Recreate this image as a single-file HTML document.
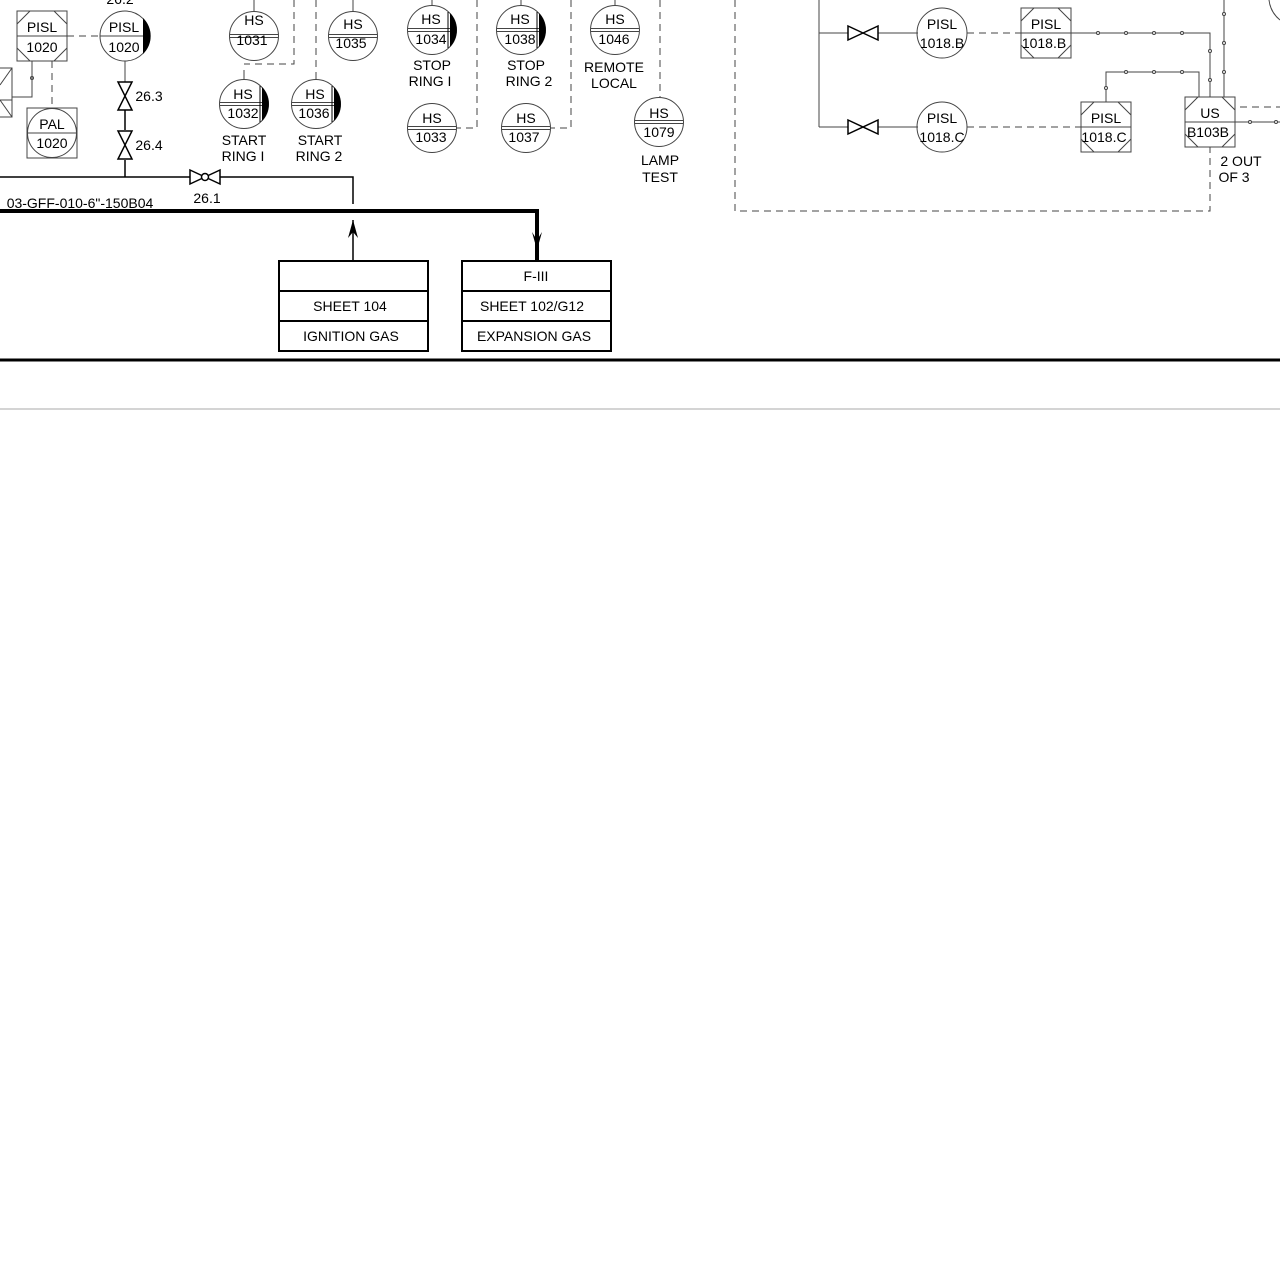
<!DOCTYPE html>
<html><head><meta charset="utf-8"><style>
html,body{margin:0;padding:0;background:#fff;}
svg{display:block;}
text{font-family:"Liberation Sans",sans-serif;font-size:14px;fill:#000;text-anchor:middle;}
.t{stroke:#444;stroke-width:1;fill:none;}
.k{stroke:#000;stroke-width:1.5;fill:none;}
.d{stroke:#444;stroke-width:1;fill:none;stroke-dasharray:7,5;}
</style></head><body>
<svg width="1280" height="1280" viewBox="0 0 1280 1280" xmlns="http://www.w3.org/2000/svg">
<rect width="1280" height="1280" fill="#fff"/>
<defs>
<g id="box"><rect x="-25" y="-25" width="50" height="50" class="t"/><line x1="-25" y1="0" x2="25" y2="0" class="t"/>
<path d="M-25,-12 L-12,-25 M12,-25 L25,-12 M-25,12 L-12,25 M12,25 L25,12" class="t"/></g>
<g id="hs"><circle r="24.5" class="t"/><line x1="-24" y1="-1.5" x2="24" y2="-1.5" class="t"/><line x1="-24" y1="1.5" x2="24" y2="1.5" class="t"/></g>
<g id="sh"><path d="M18,-17 A24.5,24.5 0 0 1 18,17 Z" fill="#000"/><line x1="16" y1="-18" x2="16" y2="18" stroke="#000"/></g>
</defs>

<path d="M0,68 L12,68 L12,117 L0,117 M0,100 L12,117 M0,85 L12,68" class="t"/>
<line x1="0" y1="100" x2="12" y2="100" class="t"/>
<use href="#box" x="42" y="36"/>
<text x="42" y="32">PISL</text><text x="42" y="52">1020</text>
<path d="M32,61 L32,97 L12,97" class="t"/><circle cx="32" cy="78" r="1.5" class="t"/>
<line x1="52" y1="61" x2="52" y2="108" class="d"/>
<line x1="67" y1="36" x2="100" y2="36" class="d"/>
<rect x="27" y="108" width="50" height="50" class="t"/><circle cx="52" cy="133" r="24.5" class="t"/><line x1="28" y1="133" x2="76" y2="133" class="t"/>
<text x="52" y="129">PAL</text><text x="52" y="148">1020</text>
<circle cx="125" cy="36" r="25" class="t"/><line x1="100" y1="36" x2="150" y2="36" class="t"/>
<path d="M143,18 A25,25 0 0 1 143,54 Z" fill="#000"/>
<text x="124" y="32">PISL</text><text x="124" y="52">1020</text>
<text x="120" y="4">26.2</text>
<line x1="125" y1="61" x2="125" y2="82" class="t"/>
<line x1="125" y1="110" x2="125" y2="130" class="k"/>
<line x1="125" y1="160" x2="125" y2="177" class="k"/>
<path d="M118,82 L132,82 L118,110 L132,110 Z" class="k"/>
<path d="M118,131 L132,131 L118,159 L132,159 Z" class="k"/>
<text x="149" y="101">26.3</text><text x="149" y="150">26.4</text>
<path d="M0,177 L190,177 M220,177 L353,177 L353,204" class="k"/>
<path d="M190,170 L190,184 L220,170 L220,184 Z" class="k"/><circle cx="205" cy="177" r="3.5" fill="#fff" stroke="#000" stroke-width="1.5"/>
<text x="207" y="203">26.1</text>
<text x="80" y="208">03-GFF-010-6"-150B04</text>
<path d="M0,211 L537,211 L537,261" stroke="#000" stroke-width="4" fill="none"/>
<path d="M532,232 L537,250 L542,232 L537,240 Z" fill="#000"/>
<line x1="353" y1="220" x2="353" y2="261" class="k"/>
<path d="M348,238 L353,220 L358,238 L353,232 Z" fill="#000"/>
<g stroke="#000" stroke-width="2" fill="none">
<rect x="279" y="261" width="149" height="90"/><line x1="279" y1="291" x2="428" y2="291"/><line x1="279" y1="321" x2="428" y2="321"/>
<rect x="462" y="261" width="149" height="90"/><line x1="462" y1="291" x2="611" y2="291"/><line x1="462" y1="321" x2="611" y2="321"/>
</g>
<text x="350" y="311">SHEET 104</text><text x="351" y="341">IGNITION GAS</text>
<text x="536" y="281">F-III</text><text x="532" y="311">SHEET 102/G12</text><text x="534" y="341">EXPANSION GAS</text>
<line x1="0" y1="360" x2="1280" y2="360" stroke="#000" stroke-width="3"/>
<line x1="0" y1="409" x2="1280" y2="409" stroke="#aaa" stroke-width="1"/>

<line x1="254" y1="0" x2="254" y2="12" class="t"/>
<path d="M294,0 L294,64 L244,64" class="d"/><line x1="244" y1="70" x2="244" y2="80" class="t"/>
<line x1="316" y1="0" x2="316" y2="80" class="d"/>
<line x1="353" y1="0" x2="353" y2="12" class="t"/>
<g transform="translate(254,36)"><use href="#hs"/></g><text x="254" y="25">HS</text><text x="252" y="45">1031</text>
<g transform="translate(353,36)"><use href="#hs"/></g><text x="353" y="29">HS</text><text x="351" y="48">1035</text>
<g transform="translate(244,104)"><use href="#hs"/><use href="#sh"/></g><text x="243" y="99">HS</text><text x="243" y="118">1032</text>
<g transform="translate(316,104)"><use href="#hs"/><use href="#sh"/></g><text x="315" y="99">HS</text><text x="314" y="118">1036</text>
<text x="244" y="145">START</text><text x="243" y="161">RING I</text>
<text x="320" y="145">START</text><text x="319" y="161">RING 2</text>

<line x1="432" y1="0" x2="432" y2="6" class="t"/>
<line x1="521" y1="0" x2="521" y2="6" class="t"/>
<line x1="615" y1="0" x2="615" y2="6" class="t"/>
<path d="M477,0 L477,128 L456,128" class="d"/>
<path d="M571,0 L571,128 L550,128" class="d"/>
<line x1="660" y1="0" x2="660" y2="97" class="d"/>
<g transform="translate(432,30)"><use href="#hs"/><use href="#sh"/></g><text x="431" y="24">HS</text><text x="431" y="44">1034</text>
<g transform="translate(521,30)"><use href="#hs"/><use href="#sh"/></g><text x="520" y="24">HS</text><text x="520" y="44">1038</text>
<g transform="translate(615,30)"><use href="#hs"/></g><text x="615" y="24">HS</text><text x="614" y="44">1046</text>
<text x="432" y="70">STOP</text><text x="430" y="86">RING I</text>
<text x="526" y="70">STOP</text><text x="529" y="86">RING 2</text>
<text x="614" y="72">REMOTE</text><text x="614" y="88">LOCAL</text>
<g transform="translate(432,128)"><use href="#hs"/></g><text x="432" y="123">HS</text><text x="431" y="142">1033</text>
<g transform="translate(526,128)"><use href="#hs"/></g><text x="526" y="123">HS</text><text x="524" y="142">1037</text>
<g transform="translate(659,122)"><use href="#hs"/></g><text x="659" y="118">HS</text><text x="659" y="137">1079</text>
<text x="660" y="165">LAMP</text><text x="660" y="182">TEST</text>

<path d="M735,0 L735,211 L1210,211 L1210,147" class="d"/>
<path d="M819,0 L819,127 M819,33 L848,33 M878,33 L918,33 M819,127 L848,127 M878,127 L918,127" class="t"/>
<path d="M848,26 L848,40 L878,26 L878,40 Z" class="k"/>
<path d="M848,120 L848,134 L878,120 L878,134 Z" class="k"/>
<circle cx="942" cy="33" r="25" class="t"/><text x="942" y="29">PISL</text><text x="942" y="48">1018.B</text>
<circle cx="942" cy="127" r="25" class="t"/><text x="942" y="123">PISL</text><text x="942" y="142">1018.C</text>
<line x1="967" y1="33" x2="1022" y2="33" class="d"/>
<line x1="967" y1="127" x2="1081" y2="127" class="d"/>
<use href="#box" x="1046" y="33"/><text x="1046" y="29">PISL</text><text x="1044" y="48">1018.B</text>
<use href="#box" x="1106" y="127"/><text x="1106" y="123">PISL</text><text x="1104" y="142">1018.C</text>
<use href="#box" x="1210" y="122"/><text x="1210" y="118">US</text><text x="1208" y="137">B103B</text>
<path d="M1071,33 L1210,33 L1210,97 M1106,102 L1106,72 L1199,72 L1199,97 M1224,0 L1224,97 M1235,122 L1280,122" class="t"/>
<g fill="#fff" stroke="#444" stroke-width="1">
<circle cx="1098" cy="33" r="1.5"/><circle cx="1126" cy="33" r="1.5"/><circle cx="1154" cy="33" r="1.5"/><circle cx="1182" cy="33" r="1.5"/>
<circle cx="1210" cy="51" r="1.5"/><circle cx="1210" cy="80" r="1.5"/>
<circle cx="1106" cy="88" r="1.5"/><circle cx="1126" cy="72" r="1.5"/><circle cx="1154" cy="72" r="1.5"/><circle cx="1182" cy="72" r="1.5"/>
<circle cx="1224" cy="14" r="1.5"/><circle cx="1224" cy="43" r="1.5"/><circle cx="1224" cy="72" r="1.5"/>
<circle cx="1250" cy="122" r="1.5"/><circle cx="1276" cy="122" r="1.5"/>
</g>
<line x1="1240" y1="107" x2="1280" y2="107" class="d"/>
<path d="M1269,0 A30,30 0 0 0 1280,20" class="t"/>
<text x="1241" y="166">2 OUT</text><text x="1234" y="182">OF 3</text>
</svg>
</body></html>
